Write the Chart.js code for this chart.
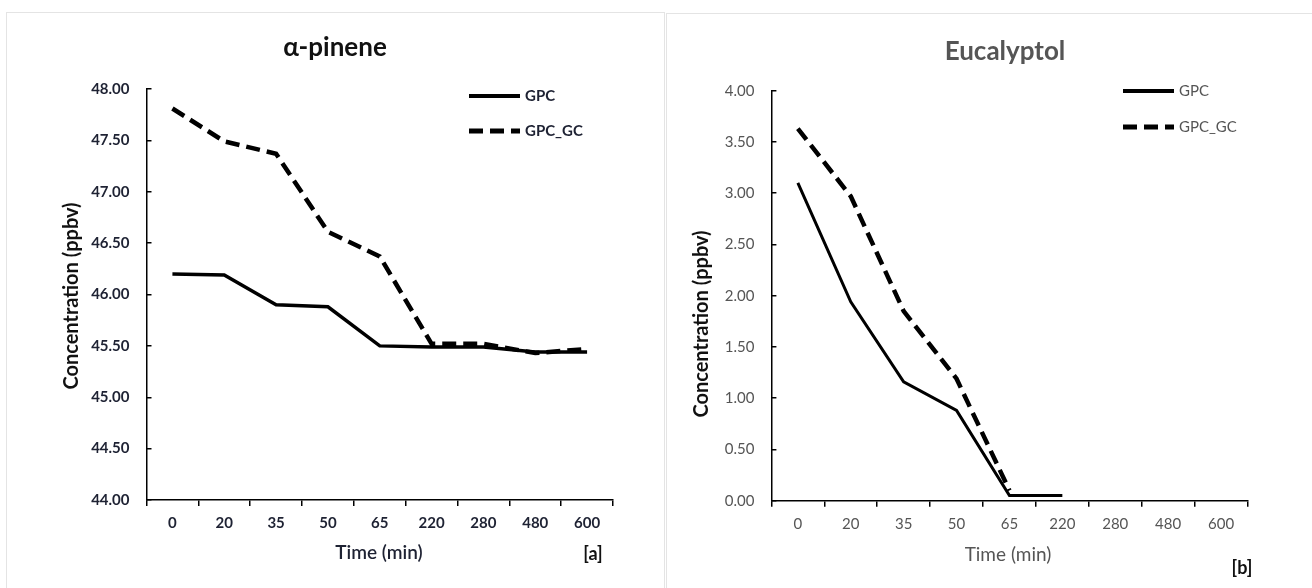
<!DOCTYPE html>
<html>
<head>
<meta charset="utf-8">
<script src="https://cdn.jsdelivr.net/npm/chart.js@4.4.0/dist/chart.umd.min.js"></script>
<style>
    html, body { margin: 0; padding: 0; background: #fff; }
    body { width: 1312px; height: 588px; position: relative; overflow: hidden; }
    .panel { position: absolute; border: 1px solid #e4e4e4; background: #fff; }
    #panel-a { left: 6px; top: 12px; }
    #panel-b { left: 666px; top: 13px; }
</style>
</head>
<body>
<div class="panel" id="panel-a"><canvas id="chart-a" width="657" height="576"></canvas></div>
<div class="panel" id="panel-b"><canvas id="chart-b" width="646" height="575"></canvas></div>
<script>
// time points (min)
var timeLabels = ['0', '20', '35', '50', '65', '220', '280', '480', '600'];

// alpha-pinene, ppbv
var pineneGPC = [46.20, 46.19, 45.90, 45.88, 45.50, 45.49, 45.49, 45.44, 45.44];
var pineneGPCGC = [47.81, 47.49, 47.37, 46.61, 46.37, 45.52, 45.52, 45.43, 45.47];

// eucalyptol, ppbv
var eucaGPC = [3.10, 1.94, 1.16, 0.88, 0.05, 0.05, null, null, null];
var eucaGPCGC = [3.63, 2.97, 1.85, 1.19, 0.10, null, null, null, null];

var seriesNames = ['GPC', 'GPC_GC'];

var FONT = 'Lato, "Open Sans", "Liberation Sans", sans-serif';

// titles, legend and panel tags drawn relative to the canvas
var textPlugin = {
    id: 'panelText',
    afterDraw: function(chart) {
        var o = chart.options.plugins.panelText;
        var ctx = chart.ctx;
        ctx.save();
        ctx.textBaseline = 'middle';

        ctx.textAlign = 'center';
        ctx.fillStyle = o.titleColor;
        ctx.font = 'bold 26px ' + FONT;
        ctx.fillText(o.title, o.titleX, o.titleY);

        ctx.fillStyle = o.xTitleColor;
        ctx.font = o.xTitleWeight + ' 19px ' + FONT;
        ctx.fillText('Time (min)', o.xTitleX, o.xTitleY);

        ctx.fillStyle = '#111';
        ctx.font = 'bold 18px ' + FONT;
        ctx.fillText(o.tag, o.tagX, o.tagY);

        ctx.save();
        ctx.translate(o.yTitleX, o.yTitleY);
        ctx.rotate(-Math.PI / 2);
        ctx.fillStyle = '#111';
        ctx.font = 'bold 20px ' + FONT;
        ctx.fillText('Concentration (ppbv)', 0, 0);
        ctx.restore();

        // legend
        chart.data.datasets.forEach(function(ds, i) {
            var y = o.legendY + i * o.legendGap;
            ctx.beginPath();
            ctx.setLineDash(ds.borderDash || []);
            ctx.lineWidth = i === 0 ? 4 : 5;
            ctx.strokeStyle = ds.borderColor;
            ctx.lineCap = 'butt';
            ctx.moveTo(o.legendX, y);
            ctx.lineTo(o.legendX + 51, y);
            ctx.stroke();
            ctx.setLineDash([]);
            ctx.textAlign = 'left';
            ctx.fillStyle = o.tickColor;
            ctx.font = o.tickWeight + ' 15px ' + FONT;
            ctx.fillText(ds.label, o.legendX + 56, y);
        });
        ctx.restore();
    }
};

function makeChart(id, gpc, gpcgc, cfg) {
    var ctx = document.getElementById(id).getContext('2d');
    return new Chart(ctx, {
        type: 'line',
        data: {
            labels: timeLabels,
            datasets: [{
                label: seriesNames[0],
                data: gpc,
                borderColor: '#000',
                borderWidth: cfg.solidWidth,
                pointRadius: 0,
                tension: 0,
                order: 0
            }, {
                label: seriesNames[1],
                data: gpcgc,
                borderColor: '#000',
                borderWidth: 4.5,
                borderDash: [14, 7],
                pointRadius: 0,
                tension: 0,
                order: 1
            }]
        },
        options: {
            responsive: false,
            animation: false,
            layout: { padding: cfg.padding },
            plugins: {
                legend: { display: false },
                title: { display: false },
                tooltip: { enabled: false },
                panelText: cfg.text
            },
            scales: {
                x: {
                    offset: true,
                    afterFit: function(scale) { scale.height = cfg.xHeight; },
                    grid: {
                        offset: true,
                        drawOnChartArea: false,
                        drawTicks: true,
                        tickLength: 6,
                        color: '#000',
                        lineWidth: 1.5
                    },
                    border: { display: true, color: '#000', width: 1.5 },
                    ticks: {
                        color: cfg.text.tickColor,
                        padding: 8,
                        maxRotation: 0,
                        font: { family: FONT, size: 15, weight: cfg.text.tickWeight }
                    }
                },
                y: {
                    min: cfg.yMin,
                    max: cfg.yMax,
                    afterFit: function(scale) { scale.width = cfg.yWidth; },
                    grid: {
                        drawOnChartArea: false,
                        drawTicks: true,
                        tickLength: -5,
                        color: '#000',
                        lineWidth: 1.5
                    },
                    border: { display: true, color: '#000', width: 1.5 },
                    ticks: {
                        stepSize: 0.5,
                        padding: 22,
                        color: cfg.text.tickColor,
                        font: { family: FONT, size: 15, weight: cfg.text.tickWeight },
                        callback: function(v) { return Number(v).toFixed(2); }
                    }
                }
            }
        },
        plugins: [textPlugin]
    });
}

makeChart('chart-a', pineneGPC, pineneGPCGC, {
    yMin: 44, yMax: 48,
    solidWidth: 3.5,
    yWidth: 139.5,
    xHeight: 89,
    padding: { left: 0, top: 76, right: 51, bottom: 0 },
    text: {
        title: 'α-pinene', titleX: 328, titleY: 35, titleColor: '#111',
        xTitleX: 372, xTitleY: 540, xTitleColor: '#1e2233', xTitleWeight: '600',
        tag: '[a]', tagX: 586, tagY: 541,
        yTitleX: 65, yTitleY: 283,
        legendX: 462, legendY: 83, legendGap: 35,
        tickColor: '#1e2233', tickWeight: 'bold'
    }
});

makeChart('chart-b', eucaGPC, eucaGPCGC, {
    yMin: 0, yMax: 4,
    solidWidth: 3,
    yWidth: 104.4,
    xHeight: 88.3,
    padding: { left: 0, top: 76.7, right: 65.5, bottom: 0 },
    text: {
        title: 'Eucalyptol', titleX: 338, titleY: 38, titleColor: '#555',
        xTitleX: 341, xTitleY: 541, xTitleColor: '#555', xTitleWeight: 'normal',
        tag: '[b]', tagX: 575, tagY: 554,
        yTitleX: 35, yTitleY: 310,
        legendX: 456, legendY: 77, legendGap: 36,
        tickColor: '#555', tickWeight: 'normal'
    }
});
</script>
</body>
</html>
